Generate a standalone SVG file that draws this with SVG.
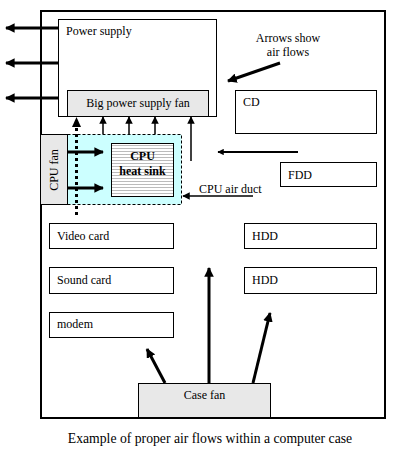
<svg xmlns="http://www.w3.org/2000/svg" width="400" height="450" viewBox="0 0 400 450">
<style>
text{font-family:"Liberation Serif","Times New Roman",serif;font-size:12px;fill:#000}
.box{fill:#fff;stroke:#000;stroke-width:1}
.gray{fill:#e8e8e8;stroke:#000;stroke-width:1}
.thick{stroke:#000;stroke-width:3;fill:none}
.thin{stroke:#000;stroke-width:1.5;fill:none}
.b{font-weight:bold}
</style>
<defs>
<marker id="ah" viewBox="0 0 10 10" refX="9" refY="5" markerWidth="3.2" markerHeight="3.2" orient="auto" markerUnits="strokeWidth">
<path d="M0,0 L10,5 L0,10 z" fill="#000"/>
</marker>
<marker id="ahs" viewBox="0 0 10 10" refX="9" refY="5" markerWidth="5" markerHeight="5" orient="auto" markerUnits="strokeWidth">
<path d="M0,0 L10,5 L0,10 z" fill="#000"/>
</marker>
<pattern id="hs" width="4" height="3" patternUnits="userSpaceOnUse">
<rect width="4" height="3" fill="#fff"/>
<line x1="0" y1="1.5" x2="4" y2="1.5" stroke="#aaa" stroke-width="0.8"/>
</pattern>
</defs>
<rect width="400" height="450" fill="#fff"/>
<g id="case"><rect x="41" y="11" width="344" height="407" fill="#fff" stroke="#000" stroke-width="2"/></g>
<g id="power-supply"><rect class="box" x="58.5" y="19.5" width="158" height="97"/><text x="66" y="35">Power supply</text></g>
<g id="ps-fan"><rect class="gray" x="67.5" y="90.5" width="141" height="26"/><text x="138" y="107" text-anchor="middle">Big power supply fan</text></g>
<g id="duct"><rect x="67.5" y="134.5" width="114" height="70" fill="#ccffff" stroke="#000" stroke-width="1" stroke-dasharray="3 2"/></g>
<g id="cpu-fan"><rect class="gray" x="40.5" y="134.5" width="27" height="70"/><text transform="translate(58,170) rotate(-90)" text-anchor="middle">CPU fan</text></g>
<g id="heat-sink"><rect x="111.5" y="143.5" width="62" height="53" fill="url(#hs)" stroke="#000" stroke-width="1"/><text class="b" x="142.5" y="160" text-anchor="middle">CPU</text><text class="b" x="142.5" y="175" text-anchor="middle">heat sink</text></g>
<g id="cd"><rect class="box" x="235.5" y="90.5" width="141" height="43"/><text x="243" y="106">CD</text></g>
<g id="fdd"><rect class="box" x="280.5" y="162.5" width="96" height="24"/><text x="288" y="179">FDD</text></g>
<g id="video-card"><rect class="box" x="49.5" y="223.5" width="124" height="25"/><text x="57" y="240">Video card</text></g>
<g id="sound-card"><rect class="box" x="49.5" y="267.5" width="124" height="26"/><text x="57" y="284">Sound card</text></g>
<g id="modem"><rect class="box" x="49.5" y="312.5" width="124" height="25"/><text x="57" y="328">modem</text></g>
<g id="hdd1"><rect class="box" x="244.5" y="223.5" width="132" height="25"/><text x="252" y="240">HDD</text></g>
<g id="hdd2"><rect class="box" x="244.5" y="267.5" width="132" height="26"/><text x="252" y="284">HDD</text></g>
<g id="case-fan"><rect class="gray" x="138.5" y="383.5" width="132" height="34"/><text x="204.5" y="399" text-anchor="middle">Case fan</text></g>
<g id="labels">
<text x="288" y="42" text-anchor="middle">Arrows show</text>
<text x="288" y="56" text-anchor="middle">air flows</text>
<text x="199" y="193">CPU air duct</text>
<text x="210" y="443" text-anchor="middle" style="font-size:13.7px">Example of proper air flows within a computer case</text>
</g>
<g id="connectors">
<line class="thick" x1="58" y1="28" x2="6" y2="28" marker-end="url(#ah)"/>
<line class="thick" x1="58" y1="63" x2="6" y2="63" marker-end="url(#ah)"/>
<line class="thick" x1="58" y1="98" x2="6" y2="98" marker-end="url(#ah)"/>
<line class="thick" x1="67" y1="152" x2="103" y2="152" marker-end="url(#ah)"/>
<line class="thick" x1="67" y1="188" x2="103" y2="188" marker-end="url(#ah)"/>
<line x1="76.5" y1="215" x2="76.5" y2="126" stroke="#000" stroke-width="3" stroke-dasharray="3 3"/>
<path d="M76.5,117 L72,127 L81,127 z" fill="#000"/>
<line class="thin" x1="103" y1="134" x2="103" y2="117" marker-end="url(#ahs)"/>
<line class="thin" x1="129" y1="134" x2="129" y2="117" marker-end="url(#ahs)"/>
<line class="thin" x1="155" y1="134" x2="155" y2="117" marker-end="url(#ahs)"/>
<line class="thin" x1="191" y1="161" x2="191" y2="117" marker-end="url(#ahs)"/>
<line class="thin" x1="253" y1="196" x2="183" y2="196" marker-end="url(#ahs)"/>
<line x1="298" y1="152" x2="218" y2="152" stroke="#000" stroke-width="2" marker-end="url(#ah)"/>
<line class="thick" x1="280" y1="63" x2="228" y2="81" marker-end="url(#ah)"/>
<line class="thick" x1="165" y1="383" x2="147" y2="349" marker-end="url(#ah)"/>
<line class="thick" x1="209" y1="383" x2="209" y2="268" marker-end="url(#ah)"/>
<line class="thick" x1="253" y1="383" x2="270" y2="313" marker-end="url(#ah)"/>
</g>
</svg>
